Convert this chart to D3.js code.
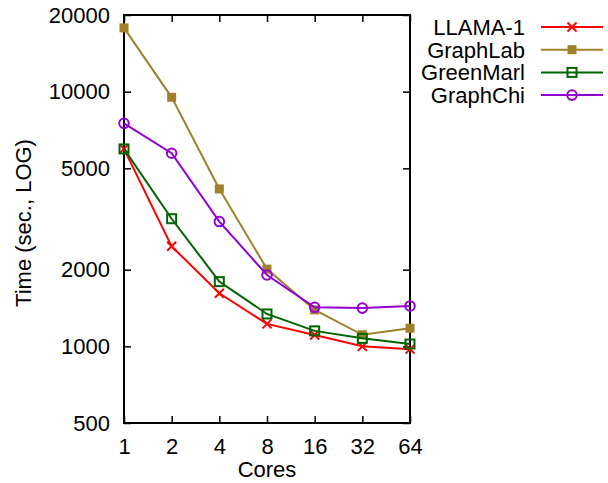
<!DOCTYPE html>
<html>
<head>
<meta charset="utf-8">
<script src="https://cdn.jsdelivr.net/npm/d3@7.9.0/dist/d3.min.js"></script>
<style>
  body { margin: 0; background: #fff; }
  svg, svg text { font-family: "Liberation Sans", Arial, sans-serif; }
</style>
</head>
<body>
<svg id="chart" width="608" height="483"></svg>
<script>
// Data
const cores = [1, 2, 4, 8, 16, 32, 64];
const llama = [5960, 2470, 1615, 1225, 1108, 1000, 975];
const graphLab = [17800, 9500, 4150, 2010, 1390, 1110, 1178];
const greenMarl = [5960, 3170, 1795, 1340, 1150, 1075, 1021];
const graphChi = [7510, 5730, 3090, 1906, 1423, 1413, 1441];
const yTicks = [500, 1000, 2000, 5000, 10000, 20000];

const series = [
  { name: 'LLAMA-1', values: llama, color: '#ff0000', marker: 'cross' },
  { name: 'GraphLab', values: graphLab, color: '#a0802a', marker: 'fsquare' },
  { name: 'GreenMarl', values: greenMarl, color: '#006400', marker: 'osquare' },
  { name: 'GraphChi', values: graphChi, color: '#9400d3', marker: 'circle' }
];

const plotLeft = 124, plotRight = 410, plotTop = 15, plotBottom = 423;
const font = '"Liberation Sans", Arial, sans-serif';
const svg = d3.select('#chart');

const x = d3.scaleLog().base(2).domain([1, 64]).range([plotLeft, plotRight]);
const y = d3.scaleLog().domain([500, 20000]).range([plotBottom, plotTop]);

// axes (ticks inward, mirrored on the opposite side)
const tickLen = 7;
const axes = svg.append('g');

axes.append('g')
  .attr('transform', `translate(0,${plotBottom})`)
  .call(d3.axisBottom(x).tickValues(cores).tickFormat(d3.format('d')).tickSizeInner(-tickLen).tickSizeOuter(0).tickPadding(15));
axes.append('g')
  .attr('transform', `translate(0,${plotTop})`)
  .call(d3.axisTop(x).tickValues(cores).tickFormat('').tickSizeInner(-tickLen).tickSizeOuter(0));
axes.append('g')
  .attr('transform', `translate(${plotLeft},0)`)
  .call(d3.axisLeft(y).tickValues(yTicks).tickFormat(d3.format('d')).tickSizeInner(-tickLen).tickSizeOuter(0).tickPadding(14));
axes.append('g')
  .attr('transform', `translate(${plotRight},0)`)
  .call(d3.axisRight(y).tickValues(yTicks).tickFormat('').tickSizeInner(-tickLen).tickSizeOuter(0));

axes.selectAll('g').attr('font-family', font).attr('font-size', 22);
axes.selectAll('.domain').remove();
axes.selectAll('text').attr('fill', '#000');
axes.selectAll('line').attr('stroke', '#000').attr('stroke-width', 1.5);

svg.append('rect')
  .attr('x', plotLeft).attr('y', plotTop)
  .attr('width', plotRight - plotLeft).attr('height', plotBottom - plotTop)
  .attr('fill', 'none').attr('stroke', '#000').attr('stroke-width', 2);

// axis titles
svg.append('text')
  .attr('x', (plotLeft + plotRight) / 2).attr('y', 477)
  .attr('text-anchor', 'middle').attr('font-size', 22)
  .text('Cores');
svg.append('text')
  .attr('transform', 'translate(31,223) rotate(-90)')
  .attr('text-anchor', 'middle').attr('font-size', 22)
  .text('Time (sec., LOG)');

function drawMarker(g, type, color, cx, cy) {
  if (type === 'cross') {
    const s = 4.5;
    g.append('path')
      .attr('d', `M${cx - s},${cy - s}L${cx + s},${cy + s}M${cx - s},${cy + s}L${cx + s},${cy - s}`)
      .attr('stroke', color).attr('stroke-width', 2).attr('fill', 'none');
  } else if (type === 'fsquare') {
    g.append('rect').attr('x', cx - 4.5).attr('y', cy - 4.5).attr('width', 9).attr('height', 9)
      .attr('fill', color);
  } else if (type === 'osquare') {
    g.append('rect').attr('x', cx - 4.5).attr('y', cy - 4.5).attr('width', 9).attr('height', 9)
      .attr('fill', 'none').attr('stroke', color).attr('stroke-width', 2);
  } else {
    g.append('circle').attr('cx', cx).attr('cy', cy).attr('r', 4.8)
      .attr('fill', 'none').attr('stroke', color).attr('stroke-width', 2);
  }
}

const line = d3.line().x((d, i) => x(cores[i])).y(d => y(d));

series.forEach(s => {
  const g = svg.append('g');
  g.append('path')
    .attr('d', line(s.values))
    .attr('fill', 'none').attr('stroke', s.color).attr('stroke-width', 2);
  s.values.forEach((v, i) => drawMarker(g, s.marker, s.color, x(cores[i]), y(v)));
});

// legend
const legend = svg.append('g');
series.forEach((s, i) => {
  const ly = 27 + i * 22.7;
  legend.append('text')
    .attr('x', 525).attr('y', ly + 8)
    .attr('text-anchor', 'end').attr('font-size', 22)
    .text(s.name);
  legend.append('line')
    .attr('x1', 541).attr('x2', 603).attr('y1', ly).attr('y2', ly)
    .attr('stroke', s.color).attr('stroke-width', 2);
  drawMarker(legend, s.marker, s.color, 572, ly);
});
</script>
</body>
</html>
